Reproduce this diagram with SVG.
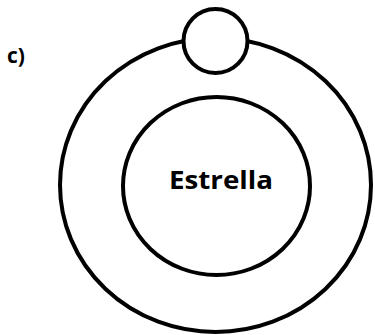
<svg xmlns="http://www.w3.org/2000/svg" width="375" height="335" viewBox="0 0 375 335">
<style>
.ring{fill:none;stroke:#000;stroke-width:4}
.fill{fill:#fff;stroke:#000;stroke-width:4}
.t{font-family:"Open Sans","Liberation Sans",sans-serif;font-weight:bold;fill:#000}
</style>
<rect width="375" height="335" fill="#fff"/>
<text class="t" x="7" y="63" font-size="21">c)</text>
<g id="orbit"><ellipse class="ring" cx="215.5" cy="185" rx="155.5" ry="147"/></g>
<g id="estrella">
<ellipse class="ring" cx="216.5" cy="186" rx="93.5" ry="89"/>
<text class="t" x="221" y="189" font-size="25" text-anchor="middle" textLength="104" lengthAdjust="spacingAndGlyphs">Estrella</text>
</g>
<g id="planeta"><circle class="fill" cx="215.5" cy="41" r="32"/></g>
</svg>
